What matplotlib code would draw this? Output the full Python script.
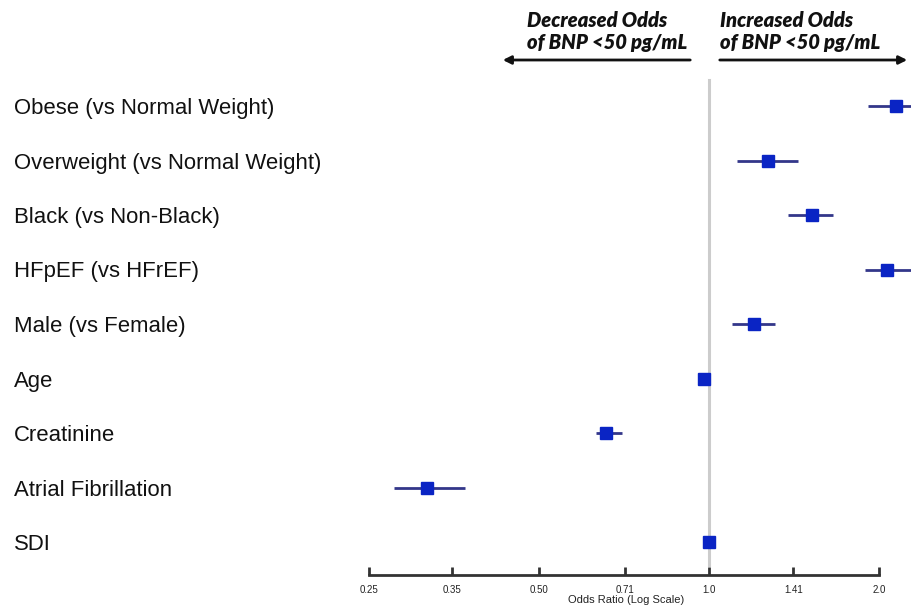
import matplotlib
matplotlib.use("Agg")
import matplotlib.pyplot as plt

# ---- data ----
categories = ["Obese (vs Normal Weight)", "Overweight (vs Normal Weight)",
              "Black (vs Non-Black)", "HFpEF (vs HFrEF)", "Male (vs Female)",
              "Age", "Creatinine", "Atrial Fibrillation", "SDI"]
odds_ratio = [2.14, 1.27, 1.52, 2.07, 1.20, 0.98, 0.657, 0.317, 1.00]
ci_low = [1.91, 1.12, 1.38, 1.89, 1.10, 0.98, 0.63, 0.277, 1.00]
ci_high = [2.40, 1.44, 1.66, 2.30, 1.31, 0.98, 0.70, 0.37, 1.00]
tick_values = [0.25, 0.35, 0.50, 0.71, 1.0, 1.41, 2.0]
tick_labels = ["0.25", "0.35", "0.50", "0.71", "1.0", "1.41", "2.0"]

W, H = 912, 609
fig = plt.figure(figsize=(W / 100, H / 100), dpi=100)
plt.rcParams['font.family'] = ['Liberation Sans', 'DejaVu Sans']

# axes in pixel geometry
ax_left, ax_right, ax_top, ax_bottom = 340, 912, 75, 575
ax = fig.add_axes([ax_left / W, 1 - ax_bottom / H, (ax_right - ax_left) / W, (ax_bottom - ax_top) / H])
ax.set_xscale('log', base=2)
ax.set_xlim(2 ** ((340 - 709) / 170), 2 ** ((912 - 709) / 170))
row0, step = 106, 54.5
ax.set_ylim((ax_bottom - row0) / step, (ax_top - row0) / step)

# reference line
ax.plot([1, 1], [(80 - row0) / step, (565 - row0) / step], color='#cccccc', lw=2.2, zorder=1)

ys = list(range(len(categories)))
for y, o, lo, hi in zip(ys, odds_ratio, ci_low, ci_high):
    ax.plot([lo, hi], [y, y], color='#33378a', lw=2, zorder=2, solid_capstyle='butt')
    ax.plot([o], [y], marker='s', ms=9, color='#0a24c4', mec='#0a24c4', zorder=3, ls='none')

for s in ['top', 'right', 'left']:
    ax.spines[s].set_visible(False)
ax.spines['bottom'].set_bounds(0.25, 2.0)
ax.spines['bottom'].set_linewidth(2)
ax.spines['bottom'].set_color('#333333')

ax.set_xticks(tick_values)
ax.set_xticklabels(tick_labels)
ax.xaxis.set_minor_locator(matplotlib.ticker.NullLocator())
ax.tick_params(axis='x', direction='in', length=6, width=2, color='#333333', labelsize=7, pad=7, labelcolor='#222222')
ax.set_xlabel("Odds Ratio (Log Scale)", fontsize=8, labelpad=0, color='#222222')

ax.set_yticks(ys)
ax.set_yticklabels(categories)
for lab in ax.get_yticklabels():
    lab.set_ha('left')
ax.tick_params(axis='y', length=0, pad=(ax_left - 14) * 0.72, labelsize=15.9, labelcolor='#111111')

ax.patch.set_alpha(0)

# header text and arrows
hdr_font = dict(fontsize=14.5, fontweight='heavy', style='italic', family=['Lato', 'DejaVu Sans'],
                color='#111111', va='top', ha='left', linespacing=1.2)
fig.text(527 / W, 1 - 11 / H, "Decreased Odds\nof BNP <50 pg/mL", **hdr_font)
fig.text(720 / W, 1 - 11 / H, "Increased Odds\nof BNP <50 pg/mL", **hdr_font)
arrow_y = 1 - 60 / H
fig.add_artist(matplotlib.patches.FancyArrowPatch((693 / W, arrow_y), (500 / W, arrow_y), transform=fig.transFigure,
                                                  arrowstyle='-|>', mutation_scale=12, lw=2, color='#111111'))
fig.add_artist(matplotlib.patches.FancyArrowPatch((717 / W, arrow_y), (910 / W, arrow_y), transform=fig.transFigure,
                                                  arrowstyle='-|>', mutation_scale=12, lw=2, color='#111111'))

fig.savefig("out.png", dpi=100)
